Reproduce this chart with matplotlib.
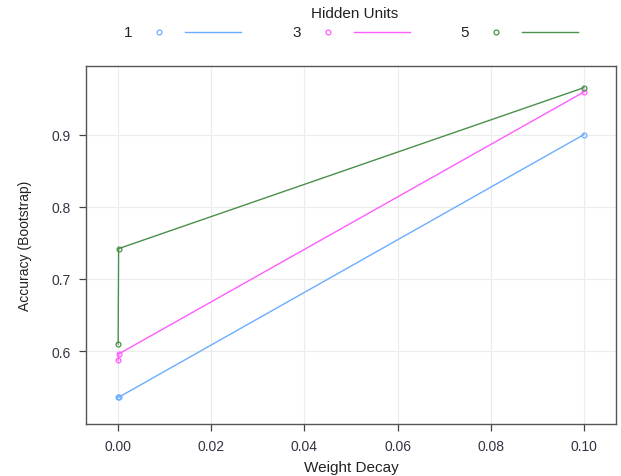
import matplotlib
matplotlib.use("Agg")
import matplotlib.pyplot as plt
from matplotlib.lines import Line2D

plt.rcParams["font.family"] = ["Liberation Sans", "DejaVu Sans"]

# ── data ──
decay = [0.0, 0.0001, 0.1]
acc_1 = [0.536, 0.536, 0.900]
acc_3 = [0.587, 0.596, 0.959]
acc_5 = [0.610, 0.742, 0.965]
sizes = ["1", "3", "5"]
colors = ["#6aadff", "#ff5cff", "#4a8f4a"]
xticks = [0.00, 0.02, 0.04, 0.06, 0.08, 0.10]
yticks = [0.6, 0.7, 0.8, 0.9]

fig = plt.figure(figsize=(6.21, 4.77), dpi=100)
ax = fig.add_axes([0.1385, 0.109, 0.8535, 0.7505])

for vals, c in zip([acc_1, acc_3, acc_5], colors):
    ax.plot(decay, vals, color=c, linewidth=1.0, marker="o", markersize=3.5,
            markerfacecolor="none", markeredgecolor=c, markeredgewidth=0.9)

ax.set_xlim(-0.0069, 0.1069)
ax.set_ylim(0.499, 0.995)
ax.set_xticks(xticks)
ax.set_xticklabels([f"{t:.2f}" for t in xticks])
ax.set_yticks(yticks)
ax.set_yticklabels([f"{t:.1f}" for t in yticks])
ax.tick_params(direction="out", length=5, width=0.9, colors="#444444",
               labelcolor="#333344", labelsize=10, pad=6)
ax.grid(True, color="#ececec", linewidth=0.8)
ax.set_axisbelow(True)
for s in ax.spines.values():
    s.set_color("#555555")
    s.set_linewidth(1.0)

ax.set_xlabel("Weight Decay", fontsize=11, color="#222222", labelpad=5)
ax.set_ylabel("Accuracy (Bootstrap)", fontsize=10, color="#222222", labelpad=14)

# lattice-style key on top: label, point, line
fig.text(355 / 621, 1 - 14 / 477, "Hidden Units", ha="center", va="center",
         fontsize=11, color="#222222")
key_x = [128, 297, 465]
for lab, c, x0 in zip(sizes, colors, key_x):
    yk = 1 - 33 / 477
    fig.text(x0 / 621, yk, lab, ha="center", va="center", fontsize=11,
             color="#222222")
    fig.add_artist(Line2D([(x0 + 31) / 621], [yk], marker="o", markersize=3.5,
                          markerfacecolor="none", markeredgecolor=c,
                          markeredgewidth=0.9, linestyle="none"))
    fig.add_artist(Line2D([(x0 + 57) / 621, (x0 + 113) / 621], [yk, yk],
                          color=c, linewidth=1.0))

fig.savefig("out.png", dpi=100, facecolor="white")
